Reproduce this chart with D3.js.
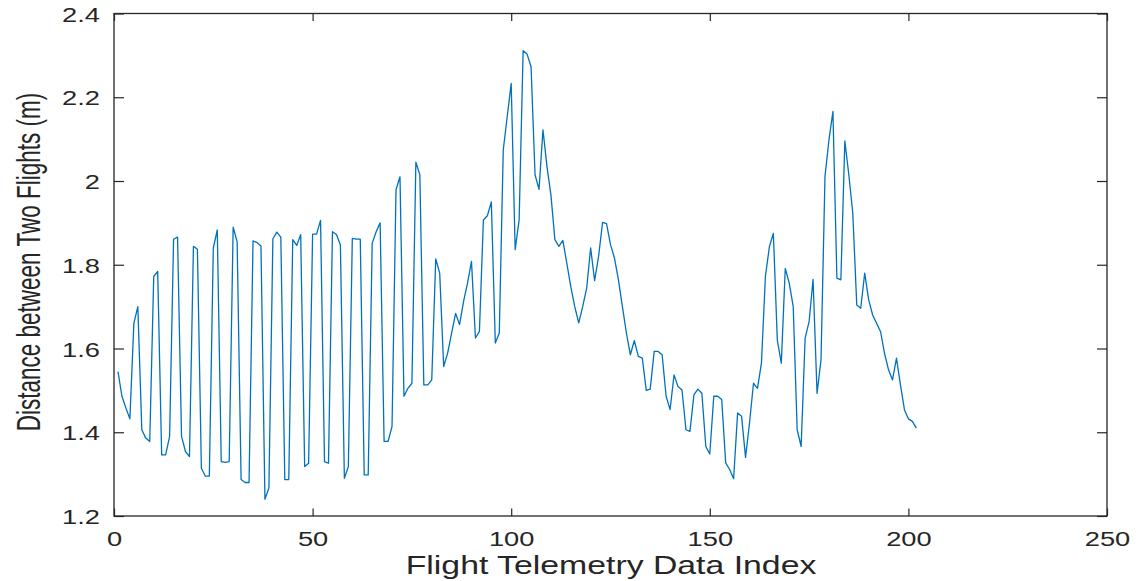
<!DOCTYPE html>
<html>
<head>
<meta charset="utf-8">
<script src="https://cdn.jsdelivr.net/npm/d3@7"></script>
<style>
  html, body { margin: 0; padding: 0; background: #fff; }
  svg { display: block; }
  text { font-family: "Liberation Sans", Arial, Helvetica, sans-serif; fill: #262626; }
</style>
</head>
<body>
<svg id="chart" width="1138" height="581"></svg>
<script>
// ---- Data ----
const distance = [
  1.545, 1.486, 1.458, 1.432, 1.66, 1.70, 1.406, 1.386, 1.378, 1.772,
  1.784, 1.346, 1.346, 1.39, 1.861, 1.866, 1.39, 1.354, 1.342, 1.844,
  1.837, 1.314, 1.295, 1.295, 1.84, 1.883, 1.33, 1.328, 1.33, 1.89,
  1.855, 1.287, 1.28, 1.28, 1.857, 1.853, 1.845, 1.24, 1.267, 1.862,
  1.878, 1.866, 1.287, 1.287, 1.86, 1.846, 1.872, 1.318, 1.326, 1.873,
  1.873, 1.906, 1.33, 1.326, 1.879, 1.872, 1.847, 1.29, 1.318, 1.863,
  1.861, 1.861, 1.298, 1.298, 1.851, 1.879, 1.9, 1.378, 1.378, 1.414,
  1.979, 2.01, 1.486, 1.505, 1.517, 2.045, 2.015, 1.513, 1.513, 1.525,
  1.814, 1.78, 1.557, 1.589, 1.637, 1.684, 1.657, 1.712, 1.756, 1.808,
  1.625, 1.641, 1.907, 1.917, 1.95, 1.613, 1.637, 2.074, 2.154, 2.233,
  1.836, 1.907, 2.311, 2.303, 2.273, 2.015, 1.98, 2.122, 2.035, 1.967,
  1.86, 1.844, 1.858, 1.804, 1.748, 1.7, 1.661, 1.7, 1.744, 1.84,
  1.762, 1.82, 1.901, 1.898, 1.848, 1.816, 1.764, 1.7, 1.637, 1.585,
  1.619, 1.581, 1.577, 1.5, 1.503, 1.593, 1.593, 1.585, 1.486, 1.454,
  1.537, 1.509, 1.501, 1.406, 1.402, 1.489, 1.503, 1.493, 1.366, 1.348,
  1.486, 1.486, 1.478, 1.327, 1.311, 1.289, 1.446, 1.438, 1.34, 1.422,
  1.517, 1.505, 1.565, 1.772, 1.843, 1.875, 1.62, 1.565, 1.791, 1.756,
  1.7, 1.406, 1.366, 1.625, 1.664, 1.765, 1.493, 1.573, 2.011, 2.098,
  2.166, 1.768, 1.764, 2.096, 2.015, 1.923, 1.704, 1.696, 1.78, 1.716,
  1.68, 1.66, 1.64, 1.588, 1.549, 1.525, 1.577, 1.513, 1.454, 1.432,
  1.426, 1.41
];
const xTicks = [0, 50, 100, 150, 200, 250];
const xTickLabels = ["0", "50", "100", "150", "200", "250"];
const yTicks = [1.2, 1.4, 1.6, 1.8, 2.0, 2.2, 2.4];
const yTickLabels = ["1.2", "1.4", "1.6", "1.8", "2", "2.2", "2.4"];
const xTitle = "Flight Telemetry Data Index";
const yTitle = "Distance between Two Flights (m)";

// ---- Layout ----
const L = 114, R = 1107, T = 13.5, B = 516;
const SX = 1.3; // horizontal stretch of the reference text
const axisColor = "#262626";
const lineColor = "#0072BD";

const svg = d3.select("#chart");
const x = d3.scaleLinear().domain([0, 250]).range([L, R]);
const y = d3.scaleLinear().domain([1.2, 2.4]).range([B, T]);

// data line
const pts = distance.map((v, i) => [i + 1, v]);
svg.append("path")
  .datum(pts)
  .attr("fill", "none")
  .attr("stroke", lineColor)
  .attr("stroke-width", 1.3)
  .attr("stroke-linejoin", "round")
  .attr("d", d3.line().x(d => x(d[0])).y(d => y(d[1])));

// axes with inward ticks (box style)
const fmtX = (d, i) => xTickLabels[i];
const fmtY = (d, i) => yTickLabels[i];

const gBottom = svg.append("g").attr("transform", `translate(0,${B})`)
  .call(d3.axisBottom(x).tickValues(xTicks).tickSize(-7.5).tickFormat(fmtX).tickSizeOuter(0));
const gTop = svg.append("g").attr("transform", `translate(0,${T})`)
  .call(d3.axisTop(x).tickValues(xTicks).tickSize(-7.5).tickFormat("").tickSizeOuter(0));
const gLeft = svg.append("g").attr("transform", `translate(${L},0)`)
  .call(d3.axisLeft(y).tickValues(yTicks).tickSize(-10).tickFormat(fmtY).tickSizeOuter(0));
const gRight = svg.append("g").attr("transform", `translate(${R},0)`)
  .call(d3.axisRight(y).tickValues(yTicks).tickSize(-10).tickFormat("").tickSizeOuter(0));

[gBottom, gTop, gLeft, gRight].forEach(g => {
  g.selectAll(".domain").remove();
  g.selectAll(".tick line").attr("stroke", axisColor).attr("stroke-width", 1.2);
});

// box
svg.append("rect")
  .attr("x", L).attr("y", T).attr("width", R - L).attr("height", B - T)
  .attr("fill", "none").attr("stroke", axisColor).attr("stroke-width", 1.3);

// tick labels: stretched horizontally like the reference
gBottom.selectAll(".tick text")
  .attr("y", null).attr("dy", null)
  .attr("transform", `translate(0,30) scale(${SX},1)`)
  .attr("text-anchor", "middle")
  .style("font-size", "21px").style("fill", axisColor)
  .attr("font-family", null);
gLeft.selectAll(".tick text")
  .attr("x", null).attr("dy", null)
  .attr("transform", `translate(-14,7.5) scale(${SX},1)`)
  .attr("text-anchor", "end")
  .style("font-size", "21px").style("fill", axisColor)
  .attr("font-family", null);

// axis titles
svg.append("text")
  .attr("transform", `translate(${(L + R) / 2 + 0.5},574) scale(${SX},1)`)
  .attr("text-anchor", "middle")
  .style("font-size", "26px")
  .text(xTitle);

svg.append("text")
  .attr("transform", `translate(40,262) scale(1.5,1) rotate(-90)`)
  .attr("text-anchor", "middle")
  .style("font-size", "22.5px")
  .text(yTitle);
</script>
</body>
</html>
